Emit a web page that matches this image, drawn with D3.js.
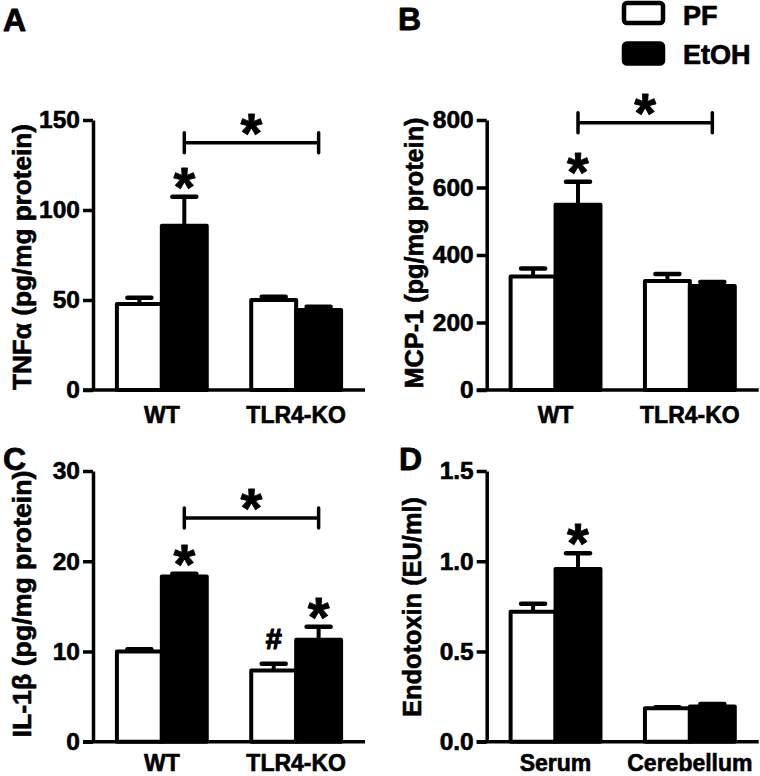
<!DOCTYPE html>
<html><head><meta charset="utf-8">
<script src="https://cdn.jsdelivr.net/npm/d3@7/dist/d3.min.js"></script>
<style>
html,body{margin:0;padding:0;background:#fff;}
svg{display:block;font-family:"Liberation Sans",Arial,sans-serif;font-weight:bold;}
</style></head>
<body>
<svg id="chart" width="760" height="776"></svg>
<script>
// ---- data ----
const seriesNames = ["PF", "EtOH"];
const groupsGenotype = ["WT", "TLR4-KO"];
const groupsTissue = ["Serum", "Cerebellum"];

const tnfPF = [47.8, 50.0],   tnfPFsem = [3.5, 1.8];
const tnfEtOH = [91.3, 44.4], tnfEtOHsem = [16.1, 1.9];
const tnfTicks = [0, 50, 100, 150];

const mcpPF = [336, 323],     mcpPFsem = [24, 21];
const mcpEtOH = [549, 308],   mcpEtOHsem = [68, 12];
const mcpTicks = [0, 200, 400, 600, 800];

const il1PF = [10.0, 7.9],    il1PFsem = [0.25, 0.75];
const il1EtOH = [18.3, 11.3], il1EtOHsem = [0.3, 1.45];
const il1Ticks = [0, 10, 20, 30];

const endoPF = [0.72, 0.185],   endoPFsem = [0.045, 0.006];
const endoEtOH = [0.957, 0.195], endoEtOHsem = [0.087, 0.014];
const endoTicks = [0.0, 0.5, 1.0, 1.5];

// significance marks: [groupIndex, seriesIndex, symbol]
const tnfMarks = [[0, 1, "*"]];
const mcpMarks = [[0, 1, "*"]];
const il1Marks = [[0, 1, "*"], [1, 0, "#"], [1, 1, "*"]];
const endoMarks = [[0, 1, "*"]];
// brackets between EtOH bars of the two groups, at a data level
const tnfBracket = [137.4];
const mcpBracket = [792];
const il1Bracket = [24.8];
const endoBracket = [];

const font = '"Liberation Sans", Arial, sans-serif';
const svg = d3.select("#chart");

function heavy(sel, w) {
  return sel.attr("stroke", "#000").attr("stroke-width", w).attr("stroke-linejoin", "round");
}

function star(g, x, yc) {
  heavy(g.append("text").attr("x", x).attr("y", yc + 30)
    .attr("text-anchor", "middle").attr("font-size", 56).attr("fill", "#000").text("*"), 0.8);
}

function panel(opt) {
  const g = svg.append("g");
  const y = d3.scaleLinear().domain([opt.ticks[0], opt.ticks[opt.ticks.length - 1]])
    .range([opt.yBottom, opt.yTop]);
  const x = d3.scaleBand().domain(opt.groups).range([opt.x0, opt.x0 + 272])
    .paddingInner(0.331).paddingOuter(0.178);
  const xs = d3.scaleBand().domain(seriesNames).range([0, x.bandwidth()]);

  const rows = [];
  opt.groups.forEach((gr, i) => {
    rows.push({g: gr, s: "PF", v: opt.pf[i], e: opt.pfSem[i]});
    rows.push({g: gr, s: "EtOH", v: opt.et[i], e: opt.etSem[i]});
  });
  const cx = d => x(d.g) + xs(d.s) + xs.bandwidth() / 2;

  // error bars (upward)
  g.selectAll("line.err").data(rows).join("line")
    .attr("x1", cx).attr("x2", cx)
    .attr("y1", d => y(d.v)).attr("y2", d => y(d.v + d.e))
    .attr("stroke", "#000").attr("stroke-width", 4);
  g.selectAll("line.cap").data(rows).join("line")
    .attr("x1", d => cx(d) - 12).attr("x2", d => cx(d) + 12)
    .attr("y1", d => y(d.v + d.e)).attr("y2", d => y(d.v + d.e))
    .attr("stroke", "#000").attr("stroke-width", 4.5).attr("stroke-linecap", "round");

  g.selectAll("rect.bar").data(rows).join("rect")
    .attr("x", d => x(d.g) + xs(d.s))
    .attr("width", xs.bandwidth())
    .attr("y", d => y(d.v))
    .attr("height", d => y(0) - y(d.v))
    .attr("fill", d => d.s === "PF" ? "#fff" : "#000")
    .attr("stroke", "#000").attr("stroke-width", 4).attr("stroke-linejoin", "round");

  // axes
  const ya = g.append("g").attr("transform", `translate(${opt.x0},0)`)
    .call(d3.axisLeft(y).tickValues(opt.ticks).tickFormat(opt.fmt).tickSize(10).tickSizeOuter(0).tickPadding(3));
  ya.selectAll("path,line").attr("stroke", "#000").attr("stroke-width", 3.5);
  heavy(ya.selectAll("text").attr("font-family", font).attr("font-weight", "bold")
    .attr("font-size", 24.5).attr("fill", "#000"), 0.6);

  const xa = g.append("g").attr("transform", `translate(0,${opt.yBottom})`)
    .call(d3.axisBottom(x).tickSize(0).tickSizeOuter(0).tickPadding(opt.xPad));
  xa.select("path").attr("stroke", "#000").attr("stroke-width", 3.5)
    .attr("d", `M${opt.x0 - 10},0H${opt.x0 + 272}`);
  heavy(xa.selectAll("text").attr("font-family", font).attr("font-weight", "bold")
    .attr("font-size", 23).attr("fill", "#000"), 0.6);

  // y title
  const t = g.append("text")
    .attr("transform", `translate(${opt.titleX},${opt.titleY}) rotate(-90)`)
    .attr("text-anchor", "middle").attr("font-size", 25).attr("fill", "#000")
    .text(opt.title);
  heavy(t, 0.6);
  if (opt.titleLen) t.attr("textLength", opt.titleLen).attr("lengthAdjust", "spacingAndGlyphs");

  // panel letter
  heavy(g.append("text").attr("x", opt.letterX).attr("y", opt.letterY)
    .attr("font-size", 32).attr("fill", "#000").text(opt.letter), 0.8);

  // marks
  opt.marks.forEach(([gi, si, sym]) => {
    const d = rows[gi * 2 + si];
    const top = y(d.v + d.e);
    if (sym === "*") {
      star(g, cx(d), top - 21);
    } else {
      heavy(g.append("text").attr("x", cx(d)).attr("y", top - 15)
        .attr("text-anchor", "middle").attr("font-size", 29).attr("fill", "#000").text(sym), 1.2);
    }
  });

  opt.bracket.forEach(lv => {
    const xa1 = cx(rows[1]), xa2 = cx(rows[3]);
    const yb = y(lv);
    g.append("line").attr("x1", xa1).attr("x2", xa2).attr("y1", yb).attr("y2", yb)
      .attr("stroke", "#000").attr("stroke-width", 3.5);
    [xa1, xa2].forEach(xx => g.append("line").attr("x1", xx).attr("x2", xx)
      .attr("y1", yb - 10).attr("y2", yb + 10)
      .attr("stroke", "#000").attr("stroke-width", 3.5).attr("stroke-linecap", "round"));
    star(g, (xa1 + xa2) / 2, yb - 21);
  });
}

const fmtInt = d3.format("d"), fmt1 = d3.format(".1f");

panel({letter: "A", letterX: 3, letterY: 31, x0: 93, yBottom: 390, yTop: 120, groups: groupsGenotype,
  pf: tnfPF, pfSem: tnfPFsem, et: tnfEtOH, etSem: tnfEtOHsem, ticks: tnfTicks, fmt: fmtInt,
  title: "TNF\u03B1  (pg/mg protein)", titleX: 31, titleY: 257, titleLen: 266, xPad: 16.5,
  marks: tnfMarks, bracket: tnfBracket});
panel({letter: "B", letterX: 398, letterY: 30, x0: 486.7, yBottom: 390, yTop: 120, groups: groupsGenotype,
  pf: mcpPF, pfSem: mcpPFsem, et: mcpEtOH, etSem: mcpEtOHsem, ticks: mcpTicks, fmt: fmtInt,
  title: "MCP-1 (pg/mg protein)", titleX: 423, titleY: 253, titleLen: 271, xPad: 16.5,
  marks: mcpMarks, bracket: mcpBracket});
panel({letter: "C", letterX: 3, letterY: 470, x0: 93, yBottom: 741.7, yTop: 471, groups: groupsGenotype,
  pf: il1PF, pfSem: il1PFsem, et: il1EtOH, etSem: il1EtOHsem, ticks: il1Ticks, fmt: fmtInt,
  title: "IL-1\u03B2  (pg/mg protein)", titleX: 31, titleY: 604, titleLen: 267, xPad: 12.5,
  marks: il1Marks, bracket: il1Bracket});
panel({letter: "D", letterX: 399, letterY: 470, x0: 486.7, yBottom: 741.7, yTop: 471, groups: groupsTissue,
  pf: endoPF, pfSem: endoPFsem, et: endoEtOH, etSem: endoEtOHsem, ticks: endoTicks, fmt: fmt1,
  title: "Endotoxin (EU/ml)", titleX: 421, titleY: 607, titleLen: 220, xPad: 12.5,
  marks: endoMarks, bracket: endoBracket});

// legend
const leg = svg.append("g");
seriesNames.forEach((s, i) => {
  leg.append("rect").attr("x", 624).attr("y", 3 + i * 40.5).attr("width", 39).attr("height", 20)
    .attr("rx", 3).attr("fill", s === "PF" ? "#fff" : "#000")
    .attr("stroke", "#000").attr("stroke-width", 4.5);
  heavy(leg.append("text").attr("x", 683).attr("y", 24.5 + i * 39.5).attr("font-size", 27)
    .attr("fill", "#000").text(s), 0.7);
});
</script>
</body></html>
